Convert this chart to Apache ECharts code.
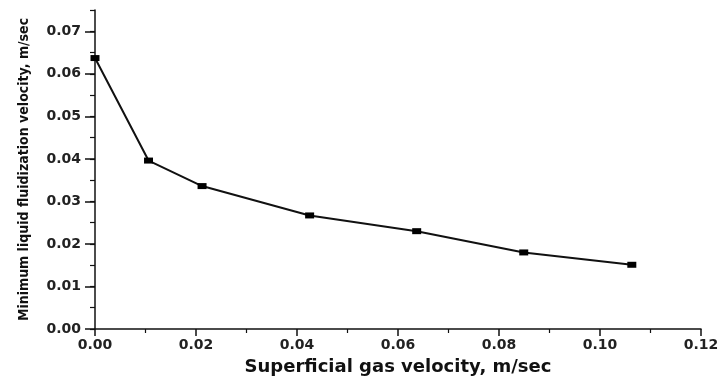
<!doctype html>
<html>
<head>
<meta charset="utf-8">
<title>Minimum liquid fluidization velocity</title>
<script src="https://cdn.jsdelivr.net/npm/echarts@6/dist/echarts.min.js"></script>
<style>
  html, body { margin: 0; padding: 0; background: #fff; }
  #chart { width: 719px; height: 379px; }
</style>
</head>
<body>
<div id="chart"></div>
<script>
// data
var gasVelocity = [0.0000, 0.0106, 0.0212, 0.0425, 0.0637, 0.0849, 0.1063];
var liquidVelocity = [0.0637, 0.0396, 0.0336, 0.0267, 0.0230, 0.0180, 0.0151];
var yTicks = [0, 0.01, 0.02, 0.03, 0.04, 0.05, 0.06, 0.07];

var chart = echarts.init(document.getElementById('chart'));

var labelFont = {
  color: '#222',
  fontFamily: 'DejaVu Sans',
  fontWeight: 'bold',
  fontSize: 14
};

var points = [];
for (var i = 0; i < gasVelocity.length; i++) {
  points.push([gasVelocity[i], liquidVelocity[i]]);
}

chart.setOption({
  animation: false,
  backgroundColor: '#fff',
  grid: { left: 95, right: 18, top: 10, bottom: 50, outerBoundsMode: 'none' },
  xAxis: [{
    type: 'value',
    min: 0,
    max: 0.12,
    interval: 0.02,
    name: 'Superficial gas velocity, m/sec',
    nameLocation: 'middle',
    nameGap: 29,
    nameTextStyle: { color: '#111', fontFamily: 'DejaVu Sans', fontWeight: 'bold', fontSize: 18 },
    axisLine: { show: true, lineStyle: { color: '#111', width: 1.5 } },
    axisTick: { show: true, inside: false, length: 7, lineStyle: { color: '#111', width: 1.5 } },
    minorTick: { show: true, splitNumber: 2, length: 4, lineStyle: { color: '#111', width: 1.2 } },
    axisLabel: Object.assign({ margin: 9, formatter: function (v) { return v.toFixed(2); } }, labelFont),
    splitLine: { show: false }
  }],
  yAxis: [{
    type: 'value',
    min: 0,
    max: 0.075,
    name: 'Minimum liquid fluidization velocity, m/sec',
    nameLocation: 'middle',
    nameGap: 64,
    nameTextStyle: { color: '#111', fontFamily: "'DejaVu Sans Condensed', 'Liberation Sans', sans-serif", fontWeight: 'bold', fontSize: 14 },
    axisLine: { show: true, lineStyle: { color: '#111', width: 1.5 } },
    axisTick: { show: true, inside: false, length: 10, customValues: yTicks, lineStyle: { color: '#111', width: 1.5 } },
    axisLabel: Object.assign({ margin: 14, customValues: yTicks, formatter: function (v) { return v.toFixed(2); } }, labelFont),
    splitLine: { show: false }
  }, {
    type: 'value',
    min: 0,
    max: 0.075,
    interval: 0.005,
    position: 'left',
    axisLine: { show: false },
    axisTick: { show: true, inside: false, length: 5, lineStyle: { color: '#111', width: 1.2 } },
    axisLabel: { show: false },
    splitLine: { show: false }
  }],
  series: [{
    type: 'line',
    data: points,
    symbol: 'rect',
    symbolSize: [9, 6],
    lineStyle: { color: '#111', width: 2 },
    itemStyle: { color: '#000' }
  }]
});
</script>
</body>
</html>
